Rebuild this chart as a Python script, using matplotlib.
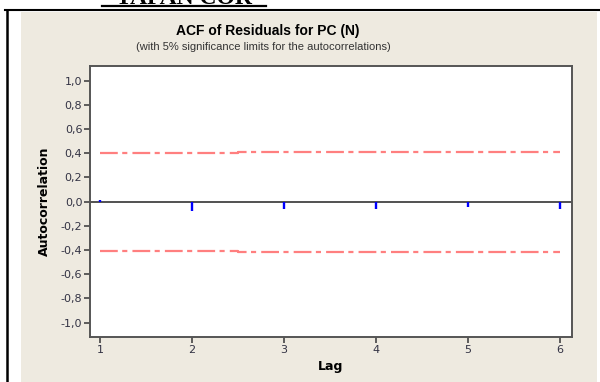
import matplotlib
matplotlib.use("Agg")
import matplotlib.pyplot as plt
from matplotlib.patches import Rectangle
from matplotlib.lines import Line2D
from matplotlib.ticker import FuncFormatter

lags = [1, 2, 3, 4, 5, 6]
acf_values = [0.01, -0.08, -0.065, -0.065, -0.045, -0.065]
upper_limit = [0.405, 0.405, 0.413, 0.413, 0.413, 0.413]
lower_limit = [-0.405, -0.405, -0.413, -0.413, -0.413, -0.413]
y_ticks = [-1.0, -0.8, -0.6, -0.4, -0.2, 0.0, 0.2, 0.4, 0.6, 0.8, 1.0]
x_ticks = [1, 2, 3, 4, 5, 6]

W, H = 600, 382
fig = plt.figure(figsize=(W / 100, H / 100), dpi=100)
fig.patch.set_facecolor("white")

def fx(px):
    return px / W

def fy(py):
    return 1 - py / H

# beige panel
fig.patches.append(Rectangle((fx(21), 0), fx(597) - fx(21), fy(12), transform=fig.transFigure,
                             facecolor="#EEEAE0", edgecolor="none", zorder=0))
# black frame lines
fig.lines.append(Line2D([fx(5), fx(600)], [fy(10), fy(10)], transform=fig.transFigure,
                        color="black", lw=1.5, zorder=1))
fig.lines.append(Line2D([fx(7), fx(7)], [fy(10), 0], transform=fig.transFigure,
                        color="black", lw=1.8, zorder=1))
# cut-off heading
fig.text(fx(184), fy(4), "TAPAN COR", ha="center", va="baseline", fontsize=17,
         fontweight="bold", family="Liberation Serif", color="black")
fig.lines.append(Line2D([fx(102), fx(266)], [fy(5.5), fy(5.5)], transform=fig.transFigure,
                        color="black", lw=1.6))

ax = fig.add_axes([fx(90), fy(337), fx(572) - fx(90), fy(66) - fy(337)])
ax.set_zorder(5)
ax.set_facecolor("white")
ax.set_xlim(0.89, 6.13)
ax.set_ylim(-1.118, 1.12)

ax.axhline(0, color="#333333", lw=1.2, zorder=2)
ax.vlines(lags, 0, acf_values, colors="#0000FF", lw=1.7, zorder=3)

dash = (0, (8, 2, 2.3, 2.3))
ax.step(lags, upper_limit, where="mid", color="#FF7F7F", lw=1.6, linestyle=dash, zorder=2)
ax.step(lags, lower_limit, where="mid", color="#FF7F7F", lw=1.6, linestyle=dash, zorder=2)

for s in ax.spines.values():
    s.set_color("#555555")
    s.set_linewidth(1.4)

ax.set_yticks(y_ticks)
ax.set_xticks(x_ticks)
ax.yaxis.set_major_formatter(FuncFormatter(lambda v, p: f"{v:.1f}".replace(".", ",").replace("-0,0", "0,0")))
ax.tick_params(axis="both", direction="out", length=4, width=1.2, color="#444444",
               labelsize=8, labelcolor="#333344", pad=1.5)

ax.set_xlabel("Lag", fontsize=9, fontweight="bold", labelpad=4)
ax.set_ylabel("Autocorrelation", fontsize=9, fontweight="bold", labelpad=7)

fig.text(fx(268), fy(31), "ACF of Residuals for PC (N)", ha="center", va="center",
         fontsize=10, fontweight="bold", color="black", family="Liberation Sans")
fig.text(fx(263), fy(47), "(with 5% significance limits for the autocorrelations)",
         ha="center", va="center", fontsize=8, color="#333333", family="Liberation Sans")

fig.savefig("out.png", dpi=100, facecolor=fig.get_facecolor())
